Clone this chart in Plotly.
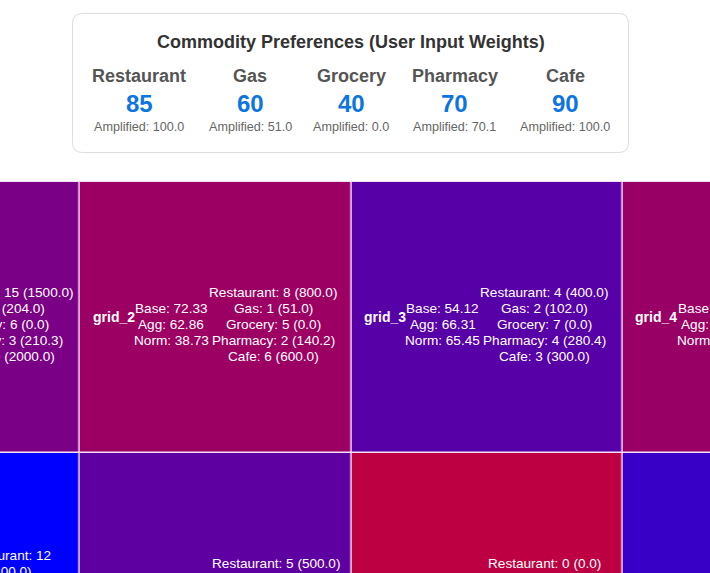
import plotly.graph_objects as go

# page is bigger than the window, the rest of the grid runs off the edge
W = 1100
H = 760

commodities = ["Restaurant", "Gas", "Grocery", "Pharmacy", "Cafe"]
weights = [85, 60, 40, 70, 90]
amplified = [100.0, 51.0, 0.0, 70.1, 100.0]

col_idx = [0, 1, 2, 3]
row_idx = [0, 1]
norm_top = [52.0, 38.73, 65.45, 40.0]
norm_bottom = [100.0, 63.0, 26.0, 78.0]

grid_names = ["grid_1", "grid_2", "grid_3", "grid_4"]
base_vals = [61.0, 72.33, 54.12, 70.5]
agg_vals = [70.0, 62.86, 66.31, 64.0]

restaurant_counts = [15, 8, 4]
gas_counts = [4, 1, 2]
grocery_counts = [6, 5, 7]
pharmacy_counts = [3, 2, 4]
cafe_counts = [20, 6, 3]
bottom_restaurant = [12, 5, 0]

WHITE_TXT = "#ffffff"
FONT = "Liberation Sans, Arial, sans-serif"
CELL = 271.3
LINE = 16
TXT = 13.6


def px_x(p):
    return p / W


def px_y(p):
    return 1 - p / H


def round_rect(x0, y0, x1, y1, r):
    a, b, c, d = px_x(x0), px_y(y0), px_x(x1), px_y(y1)
    rx, ry = r / W, r / H
    return (f"M {a+rx},{b} L {c-rx},{b} Q {c},{b} {c},{b-ry} L {c},{d+ry} Q {c},{d} {c-rx},{d} "
            f"L {a+rx},{d} Q {a},{d} {a},{d+ry} L {a},{b-ry} Q {a},{b} {a+rx},{b} Z")


fig = go.Figure()

fig.add_trace(go.Heatmap(
    x=col_idx, y=row_idx, z=[norm_top, norm_bottom],
    zmin=0, zmax=100, colorscale=[[0, "#ff0000"], [1, "#0000ff"]],
    showscale=False, xgap=1.5, ygap=1.5, hoverinfo="skip",
))

notes = []


def cell_text(x, y, txt, shift, size=TXT, bold=False):
    # shift is pixels down from the row middle
    notes.append(dict(x=x, y=y, xref="x", yref="y", text=f"<b>{txt}</b>" if bold else txt,
                      showarrow=False, yshift=-shift, xanchor="center", yanchor="middle",
                      font=dict(family=FONT, size=size, color=WHITE_TXT)))


for i, name in enumerate(grid_names):
    cell_text(col_idx[i] - 0.376, 0, name, -1, size=14, bold=True)
    norm_txt = [f"Base: {base_vals[i]:.2f}", f"Agg: {agg_vals[i]:.2f}", f"Norm: {norm_top[i]:.2f}"]
    for j, t in enumerate(norm_txt):
        cell_text(col_idx[i] - 0.163, 0, t, -9 + j * LINE)

for i in range(3):
    counts = [restaurant_counts[i], gas_counts[i], grocery_counts[i], pharmacy_counts[i], cafe_counts[i]]
    for j, c in enumerate(commodities):
        t = f"{c}: {counts[j]} ({counts[j] * amplified[j]:.1f})"
        cell_text(col_idx[i] + 0.2116, 0, t, -25 + j * LINE)

# bottom row, only the first line of each cell is in view
bottom_x = [0.23, 0.2218, 0.2116]
for i, c in enumerate(bottom_restaurant):
    val = f"({c * amplified[0]:.1f})"
    if c >= 10:
        # narrow cell wraps the number
        cell_text(col_idx[i] + bottom_x[i], 1, f"Restaurant: {c}", -33)
        cell_text(col_idx[i] + bottom_x[i], 1, val, -33 + LINE)
    else:
        cell_text(col_idx[i] + bottom_x[i], 1, f"Restaurant: {c} {val}", -25)

# preferences card
notes.append(dict(x=px_x(350.5), y=px_y(42), xref="paper", yref="paper", showarrow=False,
                  text="<b>Commodity Preferences (User Input Weights)</b>",
                  xanchor="center", yanchor="middle", font=dict(family=FONT, size=18, color="#333333")))

card_x = [139, 250, 351, 454.5, 565]
for i, c in enumerate(commodities):
    notes.append(dict(x=px_x(card_x[i]), y=px_y(76), xref="paper", yref="paper", showarrow=False,
                      text=f"<b>{c}</b>", xanchor="center", yanchor="middle",
                      font=dict(family=FONT, size=18, color="#555555")))
    notes.append(dict(x=px_x(card_x[i]), y=px_y(104), xref="paper", yref="paper", showarrow=False,
                      text=f"<b>{weights[i]}</b>", xanchor="center", yanchor="middle",
                      font=dict(family=FONT, size=24, color="#0d74e0")))
    notes.append(dict(x=px_x(card_x[i]), y=px_y(127), xref="paper", yref="paper", showarrow=False,
                      text=f"Amplified: {amplified[i]:.1f}", xanchor="center", yanchor="middle",
                      font=dict(family=FONT, size=12.6, color="#666666")))

x_left = 1 - 215.65 / CELL
x_right = x_left + W / CELL
y_top = -0.5 - 1 / CELL
y_bottom = y_top + (H - 181) / CELL

fig.update_layout(
    width=W, height=H,
    margin=dict(l=0, r=0, t=0, b=0),
    paper_bgcolor="#ffffff", plot_bgcolor="#f5dff5",
    showlegend=False,
    xaxis=dict(range=[x_left, x_right], visible=False, domain=[0, 1]),
    yaxis=dict(range=[y_bottom, y_top], visible=False, domain=[0, 1 - 181 / H]),
    annotations=notes,
    shapes=[dict(type="path", xref="paper", yref="paper", layer="below",
                 path=round_rect(72.5, 13.5, 628.5, 152.5, 10),
                 fillcolor="#ffffff", line=dict(color="#dddddd", width=1))],
)

fig.write_html("out.html", config={"displayModeBar": False},
               post_script="document.documentElement.style.overflow='hidden';"
                           "document.body.style.margin='0';document.body.style.overflow='hidden';")
